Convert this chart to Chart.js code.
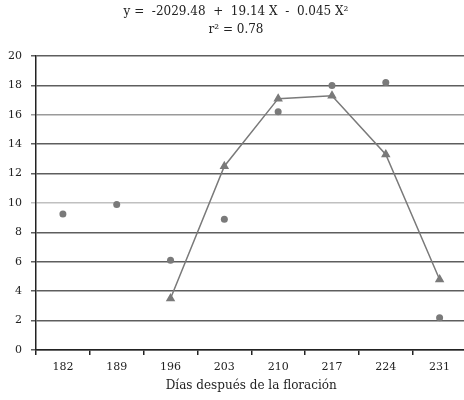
<!DOCTYPE html>
<html>
<head>
<meta charset="utf-8">
<script src="https://cdn.jsdelivr.net/npm/chart.js@4"></script>
<style>
html,body{margin:0;padding:0;background:#fff;overflow:hidden;}
#wrap{width:472px;height:400px;position:relative;}
</style>
</head>
<body>
<div id="wrap"><canvas id="chart"></canvas></div>
<script>
// dias despues de la floracion
const dias=["182","189","196","203","210","217","224","231"];
// observed values (circles)
const observado=[9.25,9.9,6.1,8.9,16.2,18.0,18.2,2.2];
// fitted values (triangles + line)
const ajustado=[null,null,3.5,12.5,17.1,17.3,13.3,4.8];
const yTicks=[0,2,4,6,8,10,12,14,16,18,20];
const tituloLineas=["y =  -2029.48  +  19.14 X  -  0.045 X\u00b2","r\u00b2 = 0.78"];

const serif="'DejaVu Serif','Liberation Serif',serif";

const ctx=document.getElementById("chart").getContext("2d");
new Chart(ctx,{
type:"line",
data:{
labels:dias,
datasets:[{
data:observado,
showLine:false,
pointStyle:"circle",
pointRadius:3.5,
backgroundColor:"#7a7a7a",
borderColor:"#7a7a7a",
borderWidth:0
},{
data:ajustado,
pointStyle:"triangle",
pointRadius:4,
backgroundColor:"#7a7a7a",
pointBorderColor:"#7a7a7a",
borderColor:"#7a7a7a",
borderWidth:1.5,
tension:0
}]
},
options:{
responsive:true,
maintainAspectRatio:false,
animation:false,
layout:{padding:{left:0,right:0,top:0,bottom:7}},
plugins:{
legend:{display:false},
tooltip:{enabled:false},
title:{
display:true,
text:tituloLineas,
color:"#222",
font:{family:serif,size:12,weight:"normal",lineHeight:1.5},
padding:{top:3,bottom:17}
}
},
scales:{
x:{
offset:true,
grid:{offset:true,drawOnChartArea:false,drawTicks:true,tickLength:5,color:"#222",lineWidth:1.5},
border:{color:"#222",width:1.5},
ticks:{color:"#222",font:{family:serif,size:11},padding:6,maxRotation:0},
title:{display:true,text:"Días después de la floración",color:"#222",font:{family:serif,size:12},padding:{top:2,bottom:0}},
afterFit:s=>{s.height=43;}
},
y:{
min:0,max:20,
afterBuildTicks:s=>{s.ticks=yTicks.map(v=>({value:v}));},
grid:{
color:c=>c.tick&&c.tick.value===10?"#c0c0c0":c.tick&&c.tick.value===16?"#9a9a9a":"#5e5e5e",
lineWidth:1.5,tickLength:5
},
border:{color:"#222",width:1.5},
ticks:{color:"#222",font:{family:serif,size:11},padding:9},
afterFit:s=>{s.width=36;}
}
}
}
});
</script>
</body>
</html>
